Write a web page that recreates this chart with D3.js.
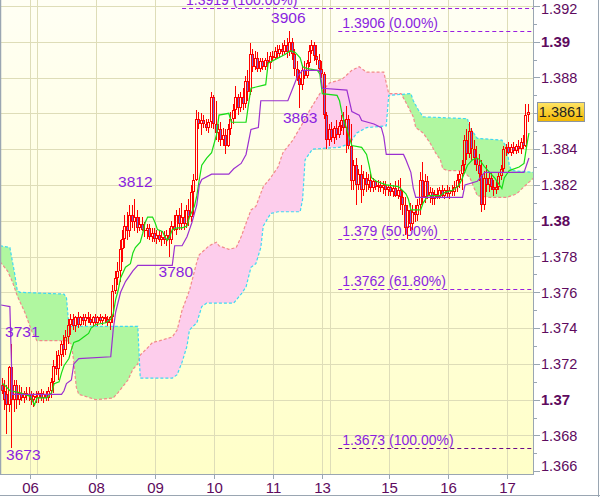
<!DOCTYPE html>
<html><head><meta charset="utf-8">
<script src="https://cdn.jsdelivr.net/npm/d3@7"></script>
<style>body{margin:0;background:#fff}svg{display:block}text{font-family:"Liberation Sans",Arial,sans-serif}</style>
</head><body><svg id="c" width="600" height="497"></svg>
<script>
// ---- DATA ----
// hourly candles [open, high, low, close]
const candles = [
[1.3708,1.3712,1.3703,1.3705],[1.3705,1.3711,1.3694,1.3700],[1.3703,1.3708,1.3681,1.3697],[1.3697,1.3719,1.3693,1.3718],[1.3718,1.3731,1.3673,1.3700],
[1.3700,1.3711,1.3693,1.3708],[1.3708,1.3711,1.3695,1.3700],[1.3700,1.3708,1.3697,1.3704],[1.3704,1.3707,1.3699,1.3701],[1.3701,1.3705,1.3698,1.3704],
[1.3704,1.3707,1.3700,1.3702],[1.3702,1.3707,1.3699,1.3703],[1.3703,1.3705,1.3697,1.3700],[1.3700,1.3704,1.3696,1.3702],[1.3702,1.3705,1.3698,1.3701],
[1.3701,1.3705,1.3698,1.3704],[1.3704,1.3706,1.3699,1.3701],[1.3701,1.3705,1.3698,1.3703],[1.3703,1.3705,1.3699,1.3701],[1.3701,1.3707,1.3699,1.3705],
[1.3705,1.3712,1.3701,1.3710],[1.3710,1.3722,1.3704,1.3719],[1.3719,1.3727,1.3714,1.3717],[1.3717,1.3728,1.3711,1.3725],[1.3725,1.3733,1.3719,1.3731],
[1.3731,1.3736,1.3724,1.3728],[1.3728,1.3739,1.3725,1.3735],[1.3735,1.3745,1.3731,1.3742],[1.3742,1.3748,1.3736,1.3745],[1.3745,1.3748,1.3739,1.3741],
[1.3741,1.3747,1.3738,1.3746],[1.3746,1.3749,1.3740,1.3742],[1.3742,1.3747,1.3741,1.3746],[1.3746,1.3748,1.3742,1.3744],[1.3744,1.3748,1.3741,1.3746],
[1.3746,1.3749,1.3743,1.3745],[1.3745,1.3748,1.3742,1.3743],[1.3743,1.3747,1.3741,1.3746],[1.3746,1.3748,1.3742,1.3743],[1.3743,1.3747,1.3741,1.3746],
[1.3746,1.3748,1.3743,1.3744],[1.3744,1.3747,1.3742,1.3746],[1.3746,1.3748,1.3743,1.3745],[1.3745,1.3747,1.3741,1.3743],[1.3743,1.3747,1.3739,1.3746],
[1.3746,1.3764,1.3743,1.3761],[1.3761,1.3772,1.3759,1.3768],[1.3768,1.3777,1.3764,1.3772],[1.3772,1.3789,1.3766,1.3784],[1.3784,1.3795,1.3777,1.3790],
[1.3790,1.3803,1.3785,1.3797],[1.3797,1.3805,1.3789,1.3794],[1.3794,1.3809,1.3791,1.3803],[1.3803,1.3809,1.3796,1.3799],[1.3799,1.3812,1.3794,1.3802],
[1.3802,1.3806,1.3793,1.3796],[1.3796,1.3802,1.3794,1.3798],[1.3798,1.3802,1.3794,1.3795],[1.3795,1.3799,1.3791,1.3794],[1.3794,1.3798,1.3790,1.3796],
[1.3796,1.3798,1.3789,1.3791],[1.3791,1.3796,1.3788,1.3793],[1.3793,1.3796,1.3788,1.3790],[1.3790,1.3795,1.3787,1.3792],[1.3792,1.3795,1.3788,1.3789],
[1.3789,1.3794,1.3786,1.3791],[1.3791,1.3794,1.3787,1.3789],[1.3789,1.3795,1.3786,1.3792],[1.3792,1.3796,1.3780,1.3789],[1.3789,1.3800,1.3787,1.3797],
[1.3797,1.3803,1.3794,1.3795],[1.3795,1.3806,1.3792,1.3803],[1.3803,1.3807,1.3795,1.3798],[1.3798,1.3810,1.3795,1.3802],[1.3802,1.3806,1.3795,1.3798],
[1.3798,1.3809,1.3796,1.3806],[1.3806,1.3812,1.3797,1.3802],[1.3802,1.3820,1.3799,1.3816],[1.3816,1.3826,1.3803,1.3823],[1.3823,1.3862,1.3822,1.3857],
[1.3857,1.3861,1.3851,1.3854],[1.3854,1.3860,1.3848,1.3856],[1.3856,1.3859,1.3852,1.3854],[1.3854,1.3857,1.3850,1.3852],[1.3852,1.3857,1.3849,1.3855],
[1.3855,1.3872,1.3852,1.3869],[1.3869,1.3870,1.3851,1.3854],[1.3854,1.3867,1.3845,1.3849],[1.3849,1.3854,1.3844,1.3851],[1.3851,1.3855,1.3842,1.3845],
[1.3845,1.3852,1.3842,1.3848],[1.3848,1.3851,1.3837,1.3842],[1.3842,1.3854,1.3841,1.3851],[1.3851,1.3861,1.3848,1.3857],[1.3857,1.3865,1.3854,1.3862],
[1.3862,1.3875,1.3857,1.3869],[1.3869,1.3871,1.3859,1.3863],[1.3863,1.3872,1.3861,1.3869],[1.3869,1.3874,1.3862,1.3865],[1.3865,1.3881,1.3863,1.3878],
[1.3878,1.3884,1.3867,1.3872],[1.3872,1.3899,1.3870,1.3893],[1.3893,1.3896,1.3883,1.3886],[1.3886,1.3895,1.3884,1.3891],[1.3891,1.3894,1.3883,1.3885],
[1.3885,1.3891,1.3883,1.3889],[1.3889,1.3891,1.3884,1.3886],[1.3886,1.3891,1.3884,1.3890],[1.3890,1.3894,1.3885,1.3888],[1.3888,1.3894,1.3885,1.3892],
[1.3892,1.3895,1.3889,1.3891],[1.3891,1.3897,1.3890,1.3895],[1.3895,1.3898,1.3891,1.3893],[1.3893,1.3898,1.3891,1.3896],[1.3896,1.3899,1.3892,1.3894],
[1.3894,1.3901,1.3893,1.3898],[1.3898,1.3902,1.3891,1.3894],[1.3894,1.3906,1.3892,1.3900],[1.3900,1.3902,1.3890,1.3893],[1.3893,1.3896,1.3881,1.3885],
[1.3885,1.3889,1.3878,1.3880],[1.3880,1.3884,1.3863,1.3876],[1.3876,1.3887,1.3873,1.3884],[1.3884,1.3889,1.3879,1.3881],[1.3881,1.3890,1.3880,1.3888],
[1.3888,1.3898,1.3886,1.3895],[1.3895,1.3901,1.3893,1.3898],[1.3898,1.3900,1.3889,1.3892],[1.3892,1.3898,1.3887,1.3890],[1.3890,1.3893,1.3883,1.3885],
[1.3885,1.3889,1.3880,1.3882],[1.3882,1.3883,1.3857,1.3859],[1.3859,1.3861,1.3840,1.3845],[1.3845,1.3854,1.3842,1.3851],[1.3851,1.3855,1.3844,1.3846],
[1.3846,1.3853,1.3843,1.3852],[1.3852,1.3856,1.3845,1.3848],[1.3848,1.3855,1.3846,1.3853],[1.3853,1.3859,1.3850,1.3856],[1.3856,1.3861,1.3848,1.3852],
[1.3852,1.3864,1.3838,1.3857],[1.3857,1.3859,1.3840,1.3842],[1.3842,1.3854,1.3817,1.3822],[1.3822,1.3834,1.3817,1.3831],[1.3831,1.3835,1.3809,1.3820],
[1.3820,1.3829,1.3817,1.3826],[1.3826,1.3831,1.3810,1.3817],[1.3817,1.3828,1.3814,1.3824],[1.3824,1.3827,1.3816,1.3820],[1.3820,1.3826,1.3817,1.3823],
[1.3823,1.3826,1.3816,1.3818],[1.3818,1.3824,1.3816,1.3822],[1.3822,1.3823,1.3817,1.3819],[1.3819,1.3823,1.3816,1.3820],[1.3820,1.3822,1.3816,1.3818],
[1.3818,1.3822,1.3815,1.3820],[1.3820,1.3822,1.3814,1.3817],[1.3817,1.3820,1.3814,1.3819],[1.3819,1.3821,1.3814,1.3816],[1.3816,1.3820,1.3813,1.3818],
[1.3818,1.3822,1.3813,1.3814],[1.3814,1.3823,1.3812,1.3817],[1.3817,1.3824,1.3806,1.3813],[1.3813,1.3817,1.3803,1.3809],[1.3809,1.3813,1.3792,1.3796],
[1.3796,1.3809,1.3790,1.3806],[1.3806,1.3810,1.3794,1.3798],[1.3798,1.3809,1.3795,1.3805],[1.3805,1.3809,1.3799,1.3803],[1.3803,1.3812,1.3800,1.3809],
[1.3809,1.3827,1.3803,1.3823],[1.3823,1.3833,1.3809,1.3813],[1.3813,1.3826,1.3810,1.3822],[1.3822,1.3825,1.3812,1.3814],[1.3814,1.3819,1.3810,1.3816],
[1.3816,1.3818,1.3809,1.3812],[1.3812,1.3817,1.3809,1.3815],[1.3815,1.3818,1.3812,1.3813],[1.3813,1.3819,1.3812,1.3817],[1.3817,1.3820,1.3813,1.3814],
[1.3814,1.3818,1.3812,1.3817],[1.3817,1.3820,1.3813,1.3815],[1.3815,1.3819,1.3812,1.3817],[1.3817,1.3820,1.3814,1.3816],[1.3816,1.3822,1.3814,1.3819],
[1.3819,1.3826,1.3816,1.3823],[1.3823,1.3828,1.3818,1.3826],[1.3826,1.3834,1.3817,1.3831],[1.3831,1.3848,1.3828,1.3845],[1.3845,1.3851,1.3834,1.3837],
[1.3837,1.3855,1.3835,1.3850],[1.3850,1.3852,1.3834,1.3840],[1.3840,1.3845,1.3831,1.3835],[1.3835,1.3842,1.3828,1.3831],[1.3831,1.3837,1.3822,1.3826],
[1.3826,1.3834,1.3805,1.3809],[1.3809,1.3828,1.3806,1.3824],[1.3824,1.3831,1.3816,1.3820],[1.3820,1.3827,1.3816,1.3824],[1.3824,1.3827,1.3817,1.3819],
[1.3819,1.3823,1.3814,1.3817],[1.3817,1.3822,1.3815,1.3819],[1.3819,1.3827,1.3817,1.3825],[1.3825,1.3831,1.3823,1.3829],[1.3829,1.3842,1.3827,1.3840],
[1.3840,1.3843,1.3836,1.3841],[1.3841,1.3844,1.3837,1.3838],[1.3838,1.3843,1.3836,1.3841],[1.3841,1.3844,1.3837,1.3839],[1.3839,1.3843,1.3837,1.3842],
[1.3842,1.3845,1.3838,1.3840],[1.3840,1.3846,1.3837,1.3844],[1.3844,1.3848,1.3840,1.3842],[1.3842,1.3865,1.3841,1.3859],[1.3859,1.3865,1.3855,1.3861]
];
// Ichimoku lines: [candle index, price]
const tenkan = [[0,1.3709],[1,1.3708],[3,1.3705],[7,1.3704],[11,1.3702],[12,1.3700],[13,1.3697],[14,1.3701],[18,1.3701],[20,1.3704],[21,1.3709],[23,1.3710],[24,1.3715],[25,1.3719],[27,1.3723],[28,1.3728],[29,1.3732],[31,1.3733],[33,1.3735],[35,1.3737],[36,1.3740],[38,1.3742],[42,1.3743],[44,1.3745],[45,1.3748],[46,1.3756],[47,1.3761],[48,1.3768],[50,1.3774],[52,1.3776],[53,1.3782],[54,1.3785],[56,1.3788],[57,1.3793],[58,1.3799],[59,1.3802],[61,1.3802],[62,1.3799],[63,1.3795],[65,1.3794],[66,1.3791],[67,1.3789],[68,1.3791],[69,1.3795],[71,1.3796],[73,1.3796],[75,1.3797],[76,1.3802],[77,1.3805],[78,1.3808],[79,1.3814],[80,1.3823],[81,1.3831],[83,1.3835],[85,1.3838],[87,1.3848],[88,1.3859],[92,1.3860],[93,1.3855],[99,1.3855],[100,1.3865],[101,1.3874],[107,1.3876],[108,1.3888],[115,1.3893],[117,1.3895],[119,1.3894],[121,1.3891],[122,1.3886],[124,1.3885],[128,1.3884],[129,1.3882],[130,1.3871],[136,1.3870],[137,1.3867],[138,1.3860],[139,1.3855],[140,1.3851],[142,1.3842],[146,1.3841],[148,1.3837],[149,1.3831],[150,1.3824],[152,1.3822],[156,1.3820],[161,1.3819],[164,1.3815],[165,1.3812],[166,1.3806],[170,1.3806],[171,1.3810],[173,1.3814],[178,1.3814],[180,1.3816],[183,1.3817],[185,1.3819],[186,1.3821],[187,1.3824],[189,1.3831],[191,1.3834],[193,1.3835],[194,1.3834],[196,1.3830],[198,1.3827],[200,1.3824],[202,1.3820],[203,1.3818],[204,1.3824],[206,1.3828],[210,1.3830],[212,1.3832],[213,1.3841],[214,1.3849]];
const kijun = [[-1,1.3753],[3,1.3752],[4,1.3703],[24,1.3703],[25,1.3705],[26,1.3709],[28,1.3711],[29,1.3720],[31,1.3723],[44,1.3724],[45,1.3739],[46,1.3749],[48,1.3760],[50,1.3766],[53,1.3772],[55,1.3775],[69,1.3775],[70,1.3786],[73,1.3786],[75,1.3791],[76,1.3795],[77,1.3799],[79,1.3809],[80,1.3820],[81,1.3823],[85,1.3826],[92,1.3826],[94,1.3829],[97,1.3832],[99,1.3837],[101,1.3851],[104,1.3852],[105,1.3867],[116,1.3867],[118,1.3874],[120,1.3881],[122,1.3884],[129,1.3884],[130,1.3874],[140,1.3873],[142,1.3861],[145,1.3859],[146,1.3856],[151,1.3854],[154,1.3852],[155,1.3847],[156,1.3837],[163,1.3837],[164,1.3834],[166,1.3827],[167,1.3818],[168,1.3813],[187,1.3813],[188,1.3820],[193,1.3822],[196,1.3827],[212,1.3827],[213,1.3831],[214,1.3835]];
const spanA = [[-1,1.3786],[3,1.3785],[5,1.3770],[6,1.3761],[7,1.3760],[25,1.3759],[26,1.3757],[27,1.3741],[55,1.3741],[56,1.3712],[69,1.3712],[71,1.3714],[73,1.3721],[75,1.3730],[76,1.3739],[79,1.3743],[81,1.3752],[83,1.3754],[94,1.3754],[97,1.3759],[99,1.3763],[101,1.3774],[103,1.3776],[105,1.3785],[106,1.3797],[109,1.3804],[112,1.3805],[121,1.3805],[122,1.3812],[123,1.3834],[126,1.3840],[137,1.3841],[141,1.3843],[144,1.3849],[148,1.3852],[156,1.3853],[157,1.3870],[166,1.3871],[167,1.3867],[169,1.3862],[171,1.3858],[189,1.3857],[190,1.3852],[193,1.3846],[203,1.3845],[205,1.3841],[206,1.3831],[207,1.3828],[216,1.3827]];
const spanB = [[-1,1.3777],[2,1.3772],[4,1.3766],[6,1.3758],[9,1.3749],[12,1.3738],[14,1.3733],[26,1.3733],[28,1.3731],[29,1.3721],[30,1.3707],[31,1.3703],[38,1.3700],[45,1.3701],[47,1.3704],[51,1.3711],[53,1.3717],[55,1.3720],[56,1.3725],[59,1.3729],[61,1.3732],[64,1.3733],[69,1.3735],[71,1.3739],[73,1.3750],[76,1.3761],[79,1.3777],[80,1.3781],[84,1.3786],[87,1.3788],[88,1.3786],[92,1.3784],[95,1.3785],[97,1.3791],[101,1.3806],[103,1.3808],[106,1.3819],[109,1.3824],[112,1.3830],[114,1.3838],[118,1.3845],[121,1.3852],[125,1.3862],[129,1.3871],[133,1.3877],[138,1.3879],[142,1.3884],[145,1.3886],[148,1.3883],[155,1.3883],[156,1.3877],[157,1.3871],[162,1.3871],[164,1.3866],[167,1.3858],[168,1.3852],[171,1.3849],[174,1.3843],[176,1.3838],[178,1.3834],[179,1.3829],[181,1.3828],[187,1.3828],[190,1.3824],[193,1.3814],[198,1.3813],[205,1.3813],[209,1.3815],[212,1.3819],[216,1.3824]];
// Fibonacci levels
const fibLevels = [1.3919, 1.3906, 1.379, 1.3762, 1.3673];
const fibNames = ["1.3919 (100.00%)", "1.3906 (0.00%)", "1.379 (50.00%)", "1.3762 (61.80%)", "1.3673 (100.00%)"];
const fibStart = [73, 136.5, 136.5, 136.5, 136.5];
// swing high/low labels
const swingValues = [1.3906, 1.3863, 1.3812, 1.3780, 1.3731, 1.3673];
const swingIndex = [117, 121, 54, 68, 4, 4];
// axes
const dayIndex = [11, 38, 62, 86, 110, 130, 157, 181, 205];
const dayLabels = ["06","08","09","10","11","13","15","16","17"];
const weekIndex = [14, 133];
const priceTicks = [1.392,1.39,1.388,1.386,1.384,1.382,1.38,1.378,1.376,1.374,1.372,1.37,1.368,1.366];
const boldTicks = [1.39,1.38,1.37];
const lastPrice = 1.3861;

// ---- DRAW ----
const svg = d3.select("#c");
const PL=1, PR=533, PT=0, PB=474;
const x = d3.scaleLinear().domain([0,214]).range([2.5, 2.5+214*2.46]);
const y = d3.scaleLinear().domain([1.366,1.392]).range([471.3,5.9]);
const defs = svg.append("defs");
const grad = defs.append("linearGradient").attr("id","bg").attr("x1",0).attr("y1",0).attr("x2",0).attr("y2",1);
grad.append("stop").attr("offset","0%").attr("stop-color","#fffff4");
grad.append("stop").attr("offset","100%").attr("stop-color","#ffffc8");
const tg = defs.append("linearGradient").attr("id","tag").attr("x1",0).attr("y1",0).attr("x2",0).attr("y2",1);
tg.append("stop").attr("offset","0%").attr("stop-color","#ffe566");
tg.append("stop").attr("offset","100%").attr("stop-color","#f2b600");
defs.append("clipPath").attr("id","pc").append("rect").attr("x",PL).attr("y",PT).attr("width",PR-PL).attr("height",PB-PT);

svg.append("rect").attr("width",600).attr("height",497).attr("fill","#fff");
svg.append("rect").attr("x",PL).attr("y",PT).attr("width",PR-PL).attr("height",PB-PT).attr("fill","url(#bg)");

const P = svg.append("g").attr("clip-path","url(#pc)");
// grid
const gridC = "#deddb8";
priceTicks.filter(p=>p>1.3665).forEach(p=>{
  const yy = Math.round(y(p))+0.5;
  P.append("line").attr("x1",PL).attr("x2",PR).attr("y1",yy).attr("y2",yy).attr("stroke",gridC);
});
dayIndex.concat(weekIndex).forEach(i=>{
  const xx = Math.round(x(i))+0.5;
  P.append("line").attr("x1",xx).attr("x2",xx).attr("y1",PT).attr("y2",PB).attr("stroke",gridC);
});

// cloud
const ax = d=>x(d[0]), ay = d=>y(d[1]);
const cp1 = defs.append("clipPath").attr("id","belowA");
cp1.append("path").attr("d", d3.area().x(ax).y0(PB+10).y1(ay)(spanA));
const cp2 = defs.append("clipPath").attr("id","aboveA");
cp2.append("path").attr("d", d3.area().x(ax).y0(PT-10).y1(ay)(spanA));
const cloud = P.append("g");
cloud.append("path").attr("d", d3.area().x(ax).y0(PT-10).y1(ay)(spanB)).attr("clip-path","url(#belowA)").attr("fill","#b0f7a0");
cloud.append("path").attr("d", d3.area().x(ax).y0(PB+10).y1(ay)(spanB)).attr("clip-path","url(#aboveA)").attr("fill","#fdcdec");
const ln = d3.line().x(ax).y(ay);
cloud.append("path").attr("d", ln(spanB)).attr("fill","none").attr("stroke","#f28a8a").attr("stroke-width",1.2).attr("stroke-dasharray","3,2");
cloud.append("path").attr("d", ln(spanA)).attr("fill","none").attr("stroke","#3fd8f2").attr("stroke-width",1.2).attr("stroke-dasharray","3,2");

// fib levels
fibLevels.forEach((lv,k)=>{
  const yy = Math.round(y(lv))+0.5;
  const xs = x(fibStart[k]);
  P.append("line").attr("x1",xs).attr("x2",PR).attr("y1",yy).attr("y2",yy)
    .attr("stroke", k===4 ? "#6a0a8a" : "#9a1ee0").attr("stroke-dasharray","4,3");
  P.append("text").attr("x",xs+4).attr("y",yy-3.5).attr("font-size",14).attr("fill","#8a1ee0").text(fibNames[k]);
});

// candles
const C = P.append("g");
candles.forEach((d,i)=>{
  const [o,h,l,c] = d;
  const cx = Math.round(x(i));
  const top = Math.round(y(Math.max(o,c))), bot = Math.round(y(Math.min(o,c)));
  const hy = Math.round(y(h)), ly = Math.round(y(l));
  C.append("line").attr("x1",cx-0.5).attr("x2",cx-0.5).attr("y1",hy).attr("y2",top).attr("stroke","#ff0000");
  C.append("line").attr("x1",cx-0.5).attr("x2",cx-0.5).attr("y1",bot).attr("y2",ly).attr("stroke","#ff0000");
  C.append("rect").attr("x",cx-1.5).attr("y",top+0.5).attr("width",2).attr("height",Math.max(bot-top-1,0.01))
    .attr("fill", c<o ? "#7a62d8" : "none").attr("stroke","#ff0000").attr("stroke-width",1);
});

// tenkan & kijun
P.append("path").attr("d", ln(tenkan)).attr("fill","none").attr("stroke","#16dc16").attr("stroke-width",1.2);
P.append("path").attr("d", ln(kijun)).attr("fill","none").attr("stroke","#9b30d0").attr("stroke-width",1.2);

// swing labels
const swDx = [-2, 0, 0, 6, 10, 11];
const swDy = [-8, 15, -12, 20, -7, 12];
swingValues.forEach((v,k)=>{
  P.append("text").attr("x",x(swingIndex[k])+swDx[k]).attr("y",y(v)+swDy[k]).attr("text-anchor","middle")
    .attr("font-size",15.5).attr("fill","#8a1ee0").text(String(Math.round(v*10000)).slice(1));
});

// borders / axes
const axC = "#9aa6b2";
svg.append("line").attr("x1",0.5).attr("x2",0.5).attr("y1",0).attr("y2",PB).attr("stroke",axC).attr("stroke-width",1.5);
svg.append("line").attr("x1",PR+0.5).attr("x2",PR+0.5).attr("y1",0).attr("y2",PB+1).attr("stroke",axC);
svg.append("line").attr("x1",0).attr("x2",PR+1).attr("y1",PB+0.5).attr("y2",PB+0.5).attr("stroke",axC);
svg.append("line").attr("x1",598.5).attr("x2",598.5).attr("y1",0).attr("y2",497).attr("stroke",axC);
svg.append("line").attr("x1",0).attr("x2",600).attr("y1",495.5).attr("y2",495.5).attr("stroke",axC);

// right axis ticks and labels
const labC = "#5e0a5e";
d3.range(0,27).map(k=>1.366+k*0.001).forEach((p,k)=>{
  const yy = Math.round(y(p))+0.5;
  const major = k%2===0;
  svg.append("line").attr("x1",PR).attr("x2",PR+(major?7:4)).attr("y1",yy).attr("y2",yy).attr("stroke",axC);
});
const ty = y(lastPrice);
priceTicks.filter(p=>Math.abs(y(p)-ty)>12).forEach(p=>{
  const yc = Math.max(8.5, Math.min(465.5, y(p)));
  const bold = boldTicks.some(b=>Math.abs(b-p)<1e-9);
  svg.append("text").attr("x",541).attr("y",yc+5.2).attr("font-size",bold?15:14.5).attr("font-weight",bold?"bold":"normal")
    .attr("fill",labC).text(d3.format(".3~f")(p));
});
// last price tag
svg.append("rect").attr("x",537.5).attr("y",Math.round(ty)-9.5).attr("width",47).attr("height",19).attr("fill","url(#tag)").attr("stroke","#8c96a2");
svg.append("text").attr("x",561).attr("y",Math.round(ty)+5).attr("text-anchor","middle").attr("font-size",14.5).attr("fill","#222").text(lastPrice.toFixed(4));

// bottom axis
dayIndex.forEach((i,k)=>{
  const xx = Math.round(x(i))+0.5;
  svg.append("line").attr("x1",xx).attr("x2",xx).attr("y1",PB).attr("y2",PB+5).attr("stroke",axC);
  svg.append("text").attr("x",xx).attr("y",492.5).attr("text-anchor","middle").attr("font-size",15).attr("fill",labC).text(dayLabels[k]);
});
</script></body></html>
